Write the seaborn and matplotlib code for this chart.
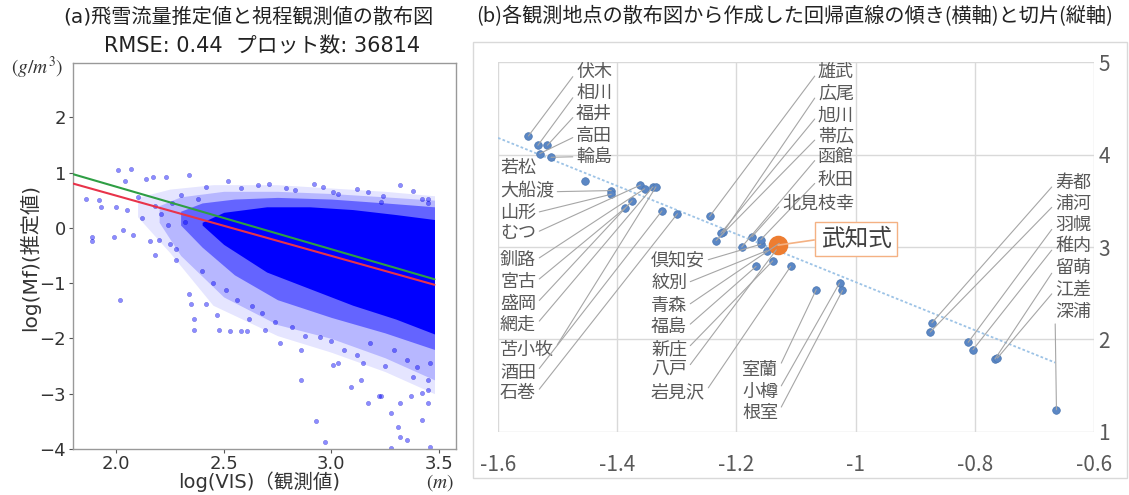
import matplotlib
matplotlib.use('Agg')
import matplotlib.pyplot as plt
from matplotlib.patches import Rectangle
import seaborn as sns

line_x = [1.80, 3.48]
green_y = [0.97, -0.93]
red_y = [0.80, -1.03]

# density bands of the 36814-point cloud (faint fringe -> solid core)
faint_x = [2.10, 2.25, 2.45, 2.75, 3.00, 3.25, 3.48]
faint_hi = [0.55, 0.70, 0.78, 0.78, 0.72, 0.66, 0.58]
faint_lo = [0.20, -0.45, -1.40, -1.95, -2.25, -2.60, -3.00]
outer_x = [2.20, 2.30, 2.50, 2.75, 3.00, 3.25, 3.48]
outer_hi = [0.40, 0.56, 0.66, 0.66, 0.62, 0.56, 0.50]
outer_lo = [0.10, -0.50, -1.25, -1.75, -2.00, -2.35, -2.75]
mid_x = [2.30, 2.40, 2.55, 2.75, 3.00, 3.25, 3.48]
mid_hi = [0.30, 0.45, 0.52, 0.55, 0.52, 0.45, 0.38]
mid_lo = [0.05, -0.35, -0.85, -1.30, -1.62, -1.90, -2.20]
core_x = [2.40, 2.50, 2.70, 2.90, 3.10, 3.30, 3.48]
core_hi = [0.10, 0.28, 0.38, 0.38, 0.33, 0.24, 0.15]
core_lo = [0.05, -0.30, -0.80, -1.10, -1.40, -1.65, -1.92]

# sparse points at the edge of the cloud
pt_x = [2.01, 2.07, 2.04, 1.86, 1.92, 1.93, 2.00, 2.05, 1.89, 1.89, 1.99, 2.03,
        2.08, 2.02, 2.18, 2.17, 2.23, 2.34, 2.12, 2.16, 2.20, 2.25, 2.28, 2.28,
        2.34, 2.35, 2.36, 2.36, 2.42, 2.47, 2.48, 2.53, 2.58, 2.61, 2.40, 2.45,
        2.51, 2.56, 2.63, 2.69, 2.68, 2.52, 2.66, 2.92, 3.12, 3.32, 3.01, 2.83,
        3.24, 3.45, 2.42, 2.76, 2.86, 2.93, 2.97, 3.01, 3.09, 3.14, 3.15, 3.03,
        3.17, 3.23, 3.28, 3.31, 3.32, 3.35, 3.32, 3.37, 3.42, 3.45, 3.45, 3.40,
        3.29, 3.18, 3.06, 2.95, 2.86, 3.35, 2.96, 3.42, 3.45, 3.23, 3.03, 2.71,
        3.28, 3.46, 3.22, 3.42, 3.45, 2.30, 2.26, 2.38, 2.14, 2.10, 2.21, 2.32,
        2.24, 2.18, 2.58, 2.79, 3.17, 3.38, 2.88, 3.00, 3.12, 3.25, 3.38, 3.46,
        2.74, 2.62, 2.82]
pt_y = [1.04, 1.06, 0.85, 0.52, 0.50, 0.37, 0.38, 0.32, -0.16, -0.23, -0.16, -0.04,
        -0.13, -1.31, -0.49, 0.91, 0.92, 0.95, 0.17, -0.23, -0.22, -0.30, -0.38, -0.58,
        -1.20, -1.37, -1.64, -1.85, -1.37, -1.58, -1.85, -1.87, -1.87, -1.87, -0.79, -1.00,
        -1.12, -1.30, -1.42, -1.85, -1.54, 0.84, 0.77, 0.80, 0.71, 0.77, 0.65, 0.68,
        0.58, 0.52, 0.74, -2.09, -2.75, -3.50, -3.88, -2.48, -2.87, -2.75, -2.45, -2.45,
        -3.17, -3.05, -3.35, -3.60, -3.78, -3.84, -3.17, -3.05, -2.99, -3.17, -2.75, -2.51,
        -2.21, -2.09, -2.21, -1.97, -2.21, -2.39, 0.74, 0.53, 0.44, 0.47, 0.62, 0.80,
        -3.98, -3.97, -3.05, -3.48, -2.93, 0.60, 0.45, 0.52, 0.89, 0.55, 0.25, 0.10,
        0.05, 0.40, 0.72, 0.72, 0.64, 0.66, -1.95, -2.05, -2.30, -2.50, -2.70, -2.45,
        -1.70, -1.65, -1.80]

left_xticks = [2.0, 2.5, 3.0, 3.5]
left_yticks = [-4, -3, -2, -1, 0, 1, 2]

# ── right panel: slope / intercept per station ──
names = ['伏木', '相川', '福井', '高田', '輪島',
         '若松', '大船渡', '山形', 'むつ', '釧路', '宮古', '盛岡', '網走', '苫小牧', '酒田', '石巻',
         '倶知安', '紋別', '青森', '福島', '新庄', '八戸', '岩見沢',
         '雄武', '広尾', '旭川', '帯広', '函館', '秋田', '北見枝幸',
         '室蘭', '小樽', '根室',
         '寿都', '浦河', '羽幌', '稚内', '留萌', '江差', '深浦']
slopes = [-1.549, -1.533, -1.517, -1.530, -1.511,
          -1.454, -1.410, -1.410, -1.361, -1.354, -1.387, -1.375, -1.340, -1.335, -1.325, -1.299,
          -1.159, -1.149, -1.128, -1.167, -1.139, -1.133, -1.109,
          -1.245, -1.222, -1.226, -1.234, -1.191, -1.159, -1.174,
          -1.066, -1.027, -1.022,
          -0.872, -0.875, -0.811, -0.803, -0.766, -0.762, -0.663]
intercepts = [4.20, 4.10, 4.10, 4.01, 3.97,
              3.71, 3.61, 3.57, 3.67, 3.63, 3.42, 3.50, 3.65, 3.65, 3.39, 3.36,
              3.03, 2.96, 3.04, 2.79, 2.85, 2.97, 2.79,
              3.33, 3.16, 3.15, 3.07, 3.00, 3.08, 3.11,
              2.54, 2.61, 2.53,
              2.18, 2.08, 1.97, 1.89, 1.79, 1.80, 1.24]
trend_x = [-1.60, -0.665]
trend_y = [4.18, 1.75]
tk_name = '武知式'
tk_slope = [-1.130]
tk_intercept = [3.02]

right_xticks = [-1.6, -1.4, -1.2, -1.0, -0.8, -0.6]
right_xlabels = ['-1.6', '-1.4', '-1.2', '-1', '-0.8', '-0.6']
right_yticks = [1, 2, 3, 4, 5]

# label layout: (count, text x, text ys, ha, leader start side)
label_groups = [
    (5, -1.469, [4.889, 4.662, 4.438, 4.200, 3.976], 'left', 0),
    (11, -1.5966, [3.854, 3.598, 3.371, 3.155, 2.859, 2.625, 2.384, 2.157, 1.886, 1.641, 1.418], 'left', 1),
    (7, -1.3433, [2.852, 2.611, 2.362, 2.135, 1.897, 1.681, 1.425], 'left', 1),
    (7, -1.0027, [4.895, 4.662, 4.427, 4.192, 3.976, 3.724, 3.472], 'right', 0),
    (3, -1.1302, [1.670, 1.436, 1.202], 'right', 1),
    (7, -0.605, [3.689, 3.465, 3.238, 3.011, 2.770, 2.535, 2.301], 'right', 0),
]

# ── style ──
sns.set_style('white')
plt.rcParams['font.family'] = ['DejaVu Sans', 'Noto Sans CJK JP']
plt.rcParams['mathtext.fontset'] = 'stix'
JP = ['Noto Sans CJK JP', 'DejaVu Sans']
LJP = ['DejaVu Sans', 'Noto Sans CJK JP']
BLUE = '#0000FF'
TXT = '#595959'

fig = plt.figure(figsize=(11.29, 4.95), dpi=100)
axl = fig.add_axes([0.0647, 0.0929, 0.3392, 0.7798])
axr = fig.add_axes([0.4411, 0.1273, 0.5279, 0.7474])

# ════ left panel ════
axl.fill_between(faint_x, faint_lo, faint_hi, color=BLUE, alpha=0.10, lw=0, zorder=1)
axl.fill_between(outer_x, outer_lo, outer_hi, color=BLUE, alpha=0.20, lw=0, zorder=1)
axl.fill_between(mid_x, mid_lo, mid_hi, color=BLUE, alpha=0.45, lw=0, zorder=1)
axl.fill_between(core_x, core_lo, core_hi, color=BLUE, alpha=1.0, lw=0, zorder=1)
sns.scatterplot(x=pt_x, y=pt_y, ax=axl, color=BLUE, s=10, alpha=0.45,
                edgecolor='#0000AA', linewidth=0.3, zorder=2, legend=False)
sns.lineplot(x=line_x, y=green_y, ax=axl, color='#2E9E44', lw=1.5, zorder=3)
sns.lineplot(x=line_x, y=red_y, ax=axl, color='#E8334A', lw=1.5, zorder=3)

axl.set_xlim(1.8, 3.58)
axl.set_ylim(-4, 2.98)
axl.set_xticks(left_xticks)
axl.set_xticklabels([f'{v:.1f}' for v in left_xticks])
axl.set_yticks(left_yticks)
axl.set_yticklabels([f'{v}'.replace('-', '\u2212') for v in left_yticks])
axl.tick_params(axis='both', labelsize=13, colors='#555555', labelcolor='#333333',
                length=3, width=0.8, direction='out', left=True, bottom=True)
axl.tick_params(axis='x', pad=1)
axl.tick_params(axis='y', pad=2)
for sp in axl.spines.values():
    sp.set_color('#999999')
    sp.set_linewidth(1.0)
axl.set_ylabel('log(Mf)(推定値)', fontsize=14.5, color='#333333', va='center', family=LJP)
axl.yaxis.set_label_coords(-0.114, 0.496)
axl.set_xlabel('log(VIS)（観測値)', fontsize=14, color='#333333', va='center', family=LJP)
axl.xaxis.set_label_coords(0.486, -0.085)

fig.text(0.2197, 0.9657, '(a)飛雪流量推定値と視程観測値の散布図', ha='center', va='center',
         fontsize=14.5, color='#222222', family=LJP)
fig.text(0.232, 0.907, 'RMSE: 0.44  プロット数: 36814', ha='center', va='center',
         fontsize=15, color='#222222', family=LJP)
fig.text(0.0328, 0.8626, r'$(g/m^3)$', ha='center', va='center', fontsize=14, color='#333333')
fig.text(0.3897, 0.026, r'$(m)$', ha='center', va='center', fontsize=14, color='#333333')

# ════ right panel ════
sns.lineplot(x=trend_x, y=trend_y, ax=axr, color='#9DC3E6', lw=1.3,
             linestyle=(0, (1.5, 1.2)), zorder=2)
sns.scatterplot(x=slopes, y=intercepts, ax=axr, s=30, color='#5B87C5',
                edgecolor='#4A76B0', linewidth=0.5, zorder=3, legend=False)

i = 0
for count, tx, tys, ha, side in label_groups:
    for k in range(count):
        name = names[i]
        arrow = None
        if name != '若松':
            arrow = dict(arrowstyle='-', color='#A6A6A6', lw=0.8,
                         shrinkA=0, shrinkB=0, relpos=(side, 0.5))
        axr.annotate(name, xy=(slopes[i], intercepts[i]), xytext=(tx, tys[k]),
                     ha=ha, va='center', fontsize=13, color=TXT, family=JP,
                     arrowprops=arrow, annotation_clip=False, zorder=5)
        i += 1

sns.scatterplot(x=tk_slope, y=tk_intercept, ax=axr, s=170, color='#ED7D31',
                edgecolor='#ED7D31', zorder=4, legend=False)
axr.annotate(tk_name, xy=(tk_slope[0], tk_intercept[0]), xytext=(-0.9993, 3.086),
             ha='center', va='center', fontsize=17, color='#404040', family=JP,
             bbox=dict(boxstyle='square,pad=0.25', fc='white', ec='#F4B183', lw=1),
             arrowprops=dict(arrowstyle='-', color='#F4B183', lw=1.2,
                             shrinkA=0, shrinkB=0, relpos=(0, 0.5)),
             zorder=6)

axr.set_xlim(-1.6, -0.6)
axr.set_ylim(1, 5)
axr.set_xticks(right_xticks)
axr.set_xticklabels(right_xlabels, family=JP)
axr.set_yticks(right_yticks)
axr.set_yticklabels([str(v) for v in right_yticks], family=JP)
axr.yaxis.tick_right()
axr.tick_params(axis='both', labelsize=15, labelcolor=TXT, length=0)
axr.tick_params(axis='x', pad=16)
axr.tick_params(axis='y', pad=3)
axr.grid(True, color='#D9D9D9', lw=1)
axr.set_axisbelow(True)
for sp in axr.spines.values():
    sp.set_visible(False)

fig.text(0.4216, 0.9657, '(b)各観測地点の散布図から作成した回帰直線の傾き(横軸)と切片(縦軸)',
         ha='left', va='center', fontsize=14.5, color='#222222', family=JP)
fig.add_artist(Rectangle((0.419, 0.0343), 0.579, 0.881, transform=fig.transFigure,
                         fill=False, ec='#D9D9D9', lw=1))

fig.savefig('out.png', dpi=100)
